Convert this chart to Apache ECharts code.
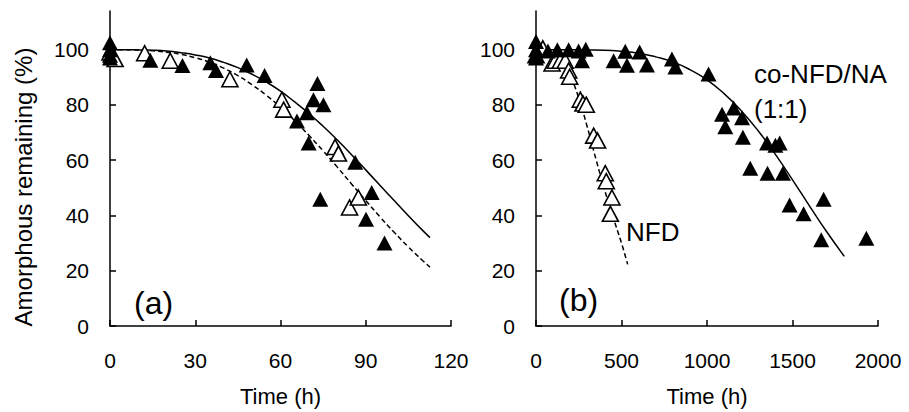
<!DOCTYPE html>
<html><head><meta charset="utf-8">
<script src="https://cdn.jsdelivr.net/npm/echarts@6/dist/echarts.min.js"></script>
<style>html,body{margin:0;padding:0;background:#fff}#c{width:909px;height:412px}</style>
</head><body><div id="c"></div>
<script>
// ---- tick values ----
const yTickValues = [0, 20, 40, 60, 80, 100];
const xTicksA = [0, 30, 60, 90, 120];
const xTicksB = [0, 500, 1000, 1500, 2000];

// ---- panel (a): measured points ----
const aFilled = [[0,102.5],[0,100],[0,98],[0,97],[14.2,96.2],[25.5,94.3],[35.3,95.3],[37.3,92.5],[48.1,94.5],[54.4,90.7],
  [65.8,74.2],[69.3,77.2],[69.9,66.2],[71.6,81.9],[73,87.8],[74,45.9],[75.1,80.1],[86.3,59.3],[90.1,38.6],[92.1,48.3],[96.6,30]];
const aHollow = [[0,99],[1.8,96.6],[12.2,98.7],[21.2,96],[42.2,89.3],[60.5,81.9],[61.1,78.3],[79.2,64.8],[80.4,62.4],[84.3,42.9],[87.4,46.5]];
// ---- panel (a): fitted curves ----
const aSolidCurve = [[0,100],[5,100],[10,99.9],[15,99.8],[20,99.5],[25,98.9],[30,98.1],[35,97.0],[40,95.4],[45,93.5],[50,91.1],[55,88.3],
  [60,85.0],[65,81.1],[70,76.9],[75,72.3],[80,67.3],[85,62.0],[90,56.5],[95,50.9],[100,45.4],[105,39.9],[110,34.6],[112.6,32.0]];
const aDashedCurve = [[0,100],[5,100],[10,99.9],[15,99.6],[20,99.1],[25,98.3],[30,97.1],[35,95.5],[40,93.3],[45,90.6],[50,87.3],[55,83.5],
  [60,79.2],[65,74.3],[70,69.0],[75,63.4],[80,57.5],[85,51.4],[90,45.4],[95,39.5],[100,33.9],[105,28.6],[110,23.7],[112.6,21.3]];

// ---- panel (b): measured points ----
const bFilled = [[0,103],[0,100],[0,98],[0,97],[70,99.5],[125,100],[191,100],[249,99.5],[291,100.2],[269,96],[454,96],[522,99.4],[532,94.4],
  [606,99.2],[649,94.5],[795,96.6],[815,93.7],[1009,91.2],[1088,76.6],[1107,72.1],[1156,78.9],[1205,75.4],[1210,68.3],[1253,57.1],
  [1351,66.2],[1354,55.3],[1400,65.4],[1425,66.2],[1444,55.3],[1483,43.8],[1565,40.6],[1668,31.2],[1682,45.9],[1932,31.8]];
const bHollow = [[0,98],[40,100.5],[94,95],[113,96],[142,96],[171,96],[191,92.5],[197,90.2],[259,81.9],[275,80.5],[294,80.1],
  [337,68.9],[360,67.1],[405,55.3],[411,52.4],[444,46.5],[435,40.6]];
// ---- panel (b): fitted curves ----
const bSolidCurve = [[0,100],[100,100],[200,100],[300,99.9],[400,99.8],[500,99.4],[600,98.7],[700,97.4],[800,95.6],[900,92.8],[1000,89.1],
  [1100,84.1],[1200,77.9],[1300,70.6],[1400,62.1],[1500,52.9],[1600,43.4],[1700,34.1],[1803,25.2]];
const bDashedCurve = [[0,100],[50,99.8],[100,98.6],[150,95.8],[200,90.5],[250,82.5],[300,72],[350,60.5],[400,49.5],[450,39.5],[500,30],[536,22.3]];

// ---- texts ----
const xName = 'Time (h)';
const yName = 'Amorphous remaining (%)';
const panelLabels = ['(a)', '(b)'];
const nfdLabel = 'NFD';
const coLabel1 = 'co-NFD/NA';
const coLabel2 = '(1:1)';

const FONT = '"Liberation Sans", Arial, Helvetica, sans-serif';
const BLACK = '#000';

function makeX(gi, max, interval, ticks) {
  return {
    type: 'value', gridIndex: gi, min: 0, max: max, interval: interval,
    name: xName, nameLocation: 'middle', nameGap: 59,
    nameTextStyle: { fontFamily: FONT, fontSize: 22, color: BLACK },
    axisLine: { show: true, onZero: false, lineStyle: { color: BLACK, width: 1.5 } },
    axisTick: { show: true, inside: true, length: 6, lineStyle: { color: BLACK, width: 1.5 }, customValues: ticks },
    axisLabel: { fontFamily: FONT, fontSize: 21, color: BLACK, margin: 24, customValues: ticks,
      formatter: function (v) { return String(v); } },
    splitLine: { show: false }
  };
}
function makeY(gi) {
  return {
    type: 'value', gridIndex: gi, min: 0, max: 114,
    axisLine: { show: true, onZero: false, lineStyle: { color: BLACK, width: 1.5 } },
    axisTick: { show: true, inside: true, length: 6, lineStyle: { color: BLACK, width: 1.5 }, customValues: yTickValues },
    axisLabel: { fontFamily: FONT, fontSize: 21, color: BLACK, margin: 21, customValues: yTickValues,
      formatter: function (v) { return String(v); } },
    splitLine: { show: false }
  };
}
function lineSeries(gi, data, dashed) {
  return { type: 'line', xAxisIndex: gi, yAxisIndex: gi, data: data, smooth: true, showSymbol: false, symbol: 'none',
    lineStyle: { color: BLACK, width: 1.5, type: dashed ? [5, 3] : 'solid' }, z: 2, silent: true, animation: false };
}
function scatterSeries(gi, data, hollow) {
  return { type: 'scatter', xAxisIndex: gi, yAxisIndex: gi, data: data, symbol: 'triangle', symbolSize: [16, 15], clip: false,
    itemStyle: hollow ? { color: '#fff', borderColor: BLACK, borderWidth: 1.6, opacity: 1 } : { color: BLACK, opacity: 1 },
    z: hollow ? 3 : 4, animation: false };
}

const chart = echarts.init(document.getElementById('c'), null, { renderer: 'svg' });
chart.setOption({
  backgroundColor: '#fff',
  animation: false,
  grid: [
    { left: 110, top: 11, width: 341, height: 322 },
    { left: 536, top: 11, width: 342, height: 322 }
  ],
  xAxis: [makeX(0, 120, 30, xTicksA), makeX(1, 2000, 500, xTicksB)],
  yAxis: [makeY(0), makeY(1)],
  series: [
    lineSeries(0, aSolidCurve, false),
    lineSeries(0, aDashedCurve, true),
    scatterSeries(0, aHollow, true),
    scatterSeries(0, aFilled, false),
    lineSeries(1, bSolidCurve, false),
    lineSeries(1, bDashedCurve, true),
    scatterSeries(1, bHollow, true),
    scatterSeries(1, bFilled, false)
  ],
  graphic: [
    { type: 'text', x: 23, y: 187, rotation: Math.PI / 2,
      style: { text: yName, fontFamily: FONT, fontSize: 24, fill: BLACK, textAlign: 'center', textVerticalAlign: 'middle' } },
    { type: 'text', x: 134, y: 303,
      style: { text: panelLabels[0], fontFamily: FONT, fontSize: 32, fill: BLACK, textAlign: 'left', textVerticalAlign: 'middle' } },
    { type: 'text', x: 559, y: 300,
      style: { text: panelLabels[1], fontFamily: FONT, fontSize: 32, fill: BLACK, textAlign: 'left', textVerticalAlign: 'middle' } },
    { type: 'text', x: 626, y: 232,
      style: { text: nfdLabel, fontFamily: FONT, fontSize: 26, fill: BLACK, textAlign: 'left', textVerticalAlign: 'middle' } },
    { type: 'text', x: 754, y: 74,
      style: { text: coLabel1, fontFamily: FONT, fontSize: 26, fill: BLACK, textAlign: 'left', textVerticalAlign: 'middle' } },
    { type: 'text', x: 754, y: 109,
      style: { text: coLabel2, fontFamily: FONT, fontSize: 26, fill: BLACK, textAlign: 'left', textVerticalAlign: 'middle' } }
  ]
});
</script>
</body></html>
